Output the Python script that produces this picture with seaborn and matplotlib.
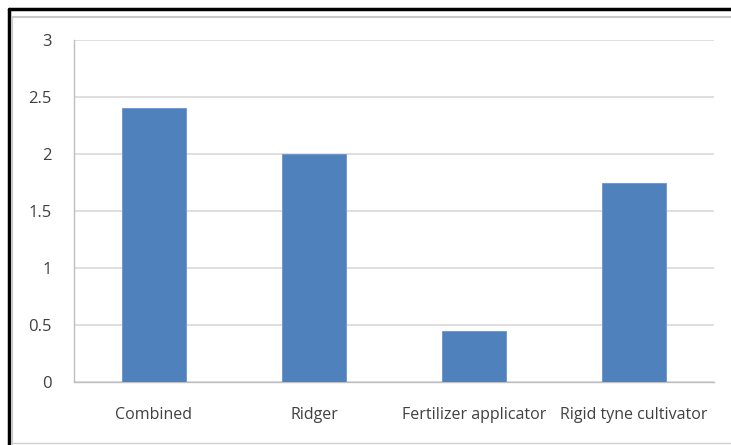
import matplotlib
matplotlib.use('Agg')
import matplotlib.pyplot as plt
import seaborn as sns
import numpy as np
from matplotlib.lines import Line2D

# Data
categories = ['Combined', 'Ridger', 'Fertilizer applicator', 'Rigid tyne cultivator']
values = [2.4, 2.0, 0.45, 1.75]
yticks = [0, 0.5, 1, 1.5, 2, 2.5, 3]
ytick_labels = ['0', '0.5', '1', '1.5', '2', '2.5', '3']

sns.set_style('white')
plt.rcParams['font.family'] = ['Open Sans', 'DejaVu Sans']

W, H = 731, 445
fig = plt.figure(figsize=(W / 100, H / 100), dpi=100)
ax = fig.add_axes([74 / W, (H - 382) / H, (714 - 74) / W, (382 - 40) / H])

sns.barplot(x=categories, y=values, color='#4F81BD', saturation=1, width=0.4, ax=ax,
            edgecolor='#6A95CC', linewidth=0.6, zorder=3)

ax.set_xlim(-0.5, len(categories) - 0.5)
ax.set_ylim(0, 3)
ax.set_yticks(yticks)
ax.set_yticklabels(ytick_labels)
ax.yaxis.grid(True, color='#D9D9D9', linewidth=1.2, zorder=0)
ax.set_axisbelow(True)

# category boundaries as tick marks, labels centred without ticks
ax.set_xticks(np.arange(len(categories)))
ax.set_xticklabels(categories)
ax.set_xticks(np.arange(len(categories) + 1) - 0.5, minor=True)
ax.tick_params(axis='x', which='major', length=0, pad=18, labelsize=11.5, labelcolor='#404040')
ax.tick_params(axis='x', which='minor', length=5, width=1, color='#BFBFBF', direction='out')
ax.tick_params(axis='y', which='major', length=5, width=1, color='#BFBFBF', direction='out',
               pad=11, labelsize=12, labelcolor='#404040')
ax.set_xlabel('')
ax.set_ylabel('')

for side in ['top', 'right']:
    ax.spines[side].set_visible(False)
for side in ['left', 'bottom']:
    ax.spines[side].set_color('#BFBFBF')
    ax.spines[side].set_linewidth(1)

# outer frame (black border + inner grey shadow line)
def px(x, y):
    return x / W, 1 - y / H

fig.add_artist(Line2D(*zip(px(9, 9), px(W, 9)), color='black', linewidth=2.5))
fig.add_artist(Line2D(*zip(px(9, 9), px(9, H)), color='black', linewidth=2.5))
fig.add_artist(Line2D(*zip(px(12, 17), px(W, 17)), color='#C8C8C8', linewidth=1.5))
fig.add_artist(Line2D(*zip(px(12, 17), px(12, H)), color='#C8C8C8', linewidth=1.5))
fig.add_artist(Line2D(*zip(px(12, 443), px(W, 443)), color='#D0D0D0', linewidth=1))

fig.savefig('out.png', dpi=100)
